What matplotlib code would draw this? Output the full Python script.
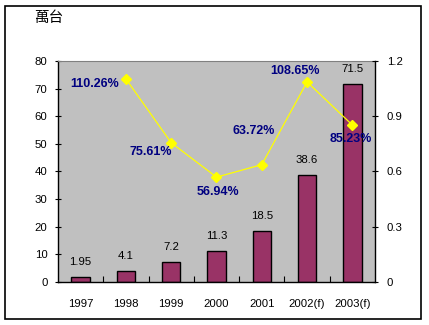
import matplotlib
matplotlib.use("Agg")
import matplotlib.pyplot as plt
from matplotlib.patches import Rectangle

years = ["1997", "1998", "1999", "2000", "2001", "2002(f)", "2003(f)"]
units = [1.95, 4.1, 7.2, 11.3, 18.5, 38.6, 71.5]
growth = [None, 1.1026, 0.7561, 0.5694, 0.6372, 1.0865, 0.8523]
growth_labels = ["", "110.26%", "75.61%", "56.94%", "63.72%", "108.65%", "85.23%"]

plt.rcParams['font.family'] = ['Liberation Sans', 'DejaVu Sans']

W, H = 429, 325
fig = plt.figure(figsize=(W / 100, H / 100), dpi=100)
fig.patch.set_facecolor('white')

# outer frame
fig.patches.append(Rectangle((5 / W, 6 / H), 416 / W, 313 / H, transform=fig.transFigure,
                             fill=False, edgecolor='black', linewidth=1.2))

left, right, top, bottom = 58, 375, 61, 282
ax = fig.add_axes((left / W, (H - bottom) / H, (right - left) / W, (bottom - top) / H))
ax.set_facecolor('#C0C0C0')

x = list(range(len(years)))
ax.bar(x, units, width=0.41, color='#993366', edgecolor='black', linewidth=1.0, zorder=2)
ax.set_xlim(-0.5, len(years) - 0.5)
ax.set_ylim(0, 80)
ax.set_yticks(range(0, 81, 10))
ax.set_xticks(x)
ax.set_xticklabels(years)
ax.set_xticks([i + 0.5 for i in x[:-1]], minor=True)
ax.tick_params(axis='x', which='major', length=0, pad=12, labelsize=8.2)
ax.tick_params(axis='x', which='minor', direction='in', length=4, width=0.8)
ax.tick_params(axis='y', direction='inout', length=5, width=0.8, labelsize=8.2, pad=5)
for s in ['left', 'bottom']:
    ax.spines[s].set_color('black')
    ax.spines[s].set_linewidth(1.0)
ax.spines['top'].set_color('#808080')
ax.spines['right'].set_visible(False)

for xi, v in zip(x, units):
    ax.annotate(f"{v:g}", (xi, v), xytext=(0, 15), textcoords='offset pixels',
                ha='center', va='center', fontsize=8.2, color='black', zorder=5)

ax2 = ax.twinx()
ax2.set_ylim(0, 1.2)
ax2.set_yticks([0, 0.3, 0.6, 0.9, 1.2])
ax2.set_yticklabels(["0", "0.3", "0.6", "0.9", "1.2"])
ax2.tick_params(axis='y', direction='inout', length=5, width=0.8, labelsize=8.2, pad=6)
ax2.spines['right'].set_color('black')
ax2.spines['right'].set_linewidth(1.0)
for s in ['left', 'top', 'bottom']:
    ax2.spines[s].set_visible(False)

gx = [xi for xi, g in zip(x, growth) if g is not None]
gy = [g for g in growth if g is not None]
ax2.plot(gx, gy, color='#FFFF00', linewidth=0.9, marker='D', markersize=5,
         markerfacecolor='#FFFF00', markeredgecolor='#FFFF00', zorder=3)

# label placement around each growth point (pixel offsets, alignment)
offsets = {1: (-7, -5, 'right'), 2: (1, -9, 'right'), 3: (1, -15, 'center'),
           4: (-8, 34, 'center'), 5: (-12, 11, 'center'), 6: (-2, -14, 'center')}
for i, (dx, dy, ha) in offsets.items():
    ax2.annotate(growth_labels[i], (x[i], growth[i]), xytext=(dx, dy),
                 textcoords='offset pixels', ha=ha, va='center', fontsize=9,
                 fontweight='bold', color='#000080', zorder=6)

fig.text(49 / W, 1 - 18 / H, "萬台", ha='center', va='center', fontsize=10.5,
         family=['Noto Sans CJK TC', 'DejaVu Sans'])

fig.savefig('out.png', dpi=100)
